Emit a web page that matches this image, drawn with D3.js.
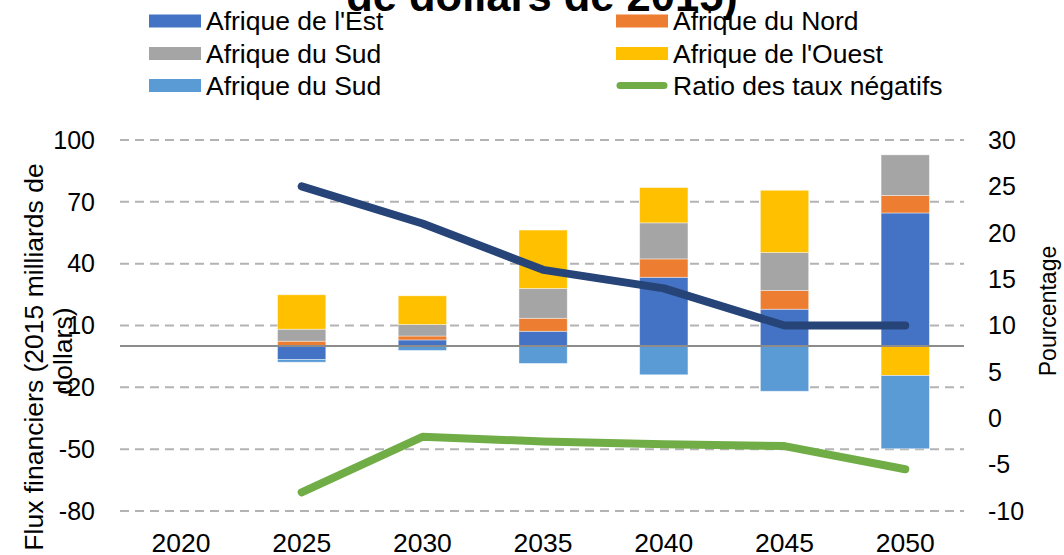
<!DOCTYPE html>
<html>
<head>
<meta charset="utf-8">
<script src="https://cdn.jsdelivr.net/npm/d3@7"></script>
<style>
  html, body { margin: 0; padding: 0; background: #fff; }
  svg { display: block; font-family: "Liberation Sans", Arial, sans-serif; }
</style>
</head>
<body>
<svg id="chart" width="1064" height="555"></svg>
<script>
// ---- Data ----
const years = ["2020", "2025", "2030", "2035", "2040", "2045", "2050"];
const afriqueEst   = [0, -6.5, 3.0, 7.2, 33.4, 17.9, 64.6];
const afriqueNord  = [0, 2.4, 1.9, 6.3, 8.9, 9.1, 8.5];
const afriqueSud   = [0, 5.8, 5.6, 14.5, 17.5, 18.4, 19.7];
const afriqueOuest = [0, 16.7, 13.9, 28.3, 17.1, 30.2, -14.3];
const afriqueSud2  = [0, -1.3, -2.1, -8.4, -13.9, -21.9, -35.5];
const ratioLine    = [null, 25, 21, 16, 14, 10, 10];
const ratioNegatif = [null, -8, -2, -2.5, -2.8, -3, -5.5];
const leftTicks  = [100, 70, 40, 10, -20, -50, -80];
const rightTicks = [30, 25, 20, 15, 10, 5, 0, -5, -10];

const seriesNames = ["Afrique de l'Est", "Afrique du Nord", "Afrique du Sud", "Afrique de l'Ouest", "Afrique du Sud "];
const seriesValues = [afriqueEst, afriqueNord, afriqueSud, afriqueOuest, afriqueSud2];
const seriesColors = ["#4472C4", "#ED7D31", "#A5A5A5", "#FFC000", "#5B9BD5"];

// ---- Layout ----
const svg = d3.select("#chart");
const plot = { left: 120.6, right: 965.6, top: 140, bottom: 511 };
const tickFont = 25;
const textFont = 26.5;

const x = d3.scaleBand().domain(years).range([plot.left, plot.right]).paddingInner(0.6).paddingOuter(0.3);
const yL = d3.scaleLinear().domain([-80, 100]).range([plot.bottom, plot.top]);
const yR = d3.scaleLinear().domain([-10, 30]).range([plot.bottom, plot.top]);

// gridlines
svg.append("g").selectAll("line").data(leftTicks).join("line")
  .attr("x1", 120).attr("x2", 964)
  .attr("y1", d => yL(d)).attr("y2", d => yL(d))
  .attr("stroke", "#B3B3B3").attr("stroke-width", 2).attr("stroke-dasharray", "9,6");

// stacked bars
const table = years.map((yr, i) => {
  const row = { year: yr };
  seriesNames.forEach((n, k) => row[n] = seriesValues[k][i]);
  return row;
});
const stack = d3.stack().keys(seriesNames).offset(d3.stackOffsetDiverging);
const stacked = stack(table);

svg.append("g").selectAll("g").data(stacked).join("g")
  .attr("fill", (d, i) => seriesColors[i])
  .selectAll("rect").data(d => d).join("rect")
  .attr("x", d => x(d.data.year))
  .attr("width", x.bandwidth())
  .attr("y", d => yL(Math.max(d[0], d[1])))
  .attr("height", d => Math.abs(yL(d[0]) - yL(d[1])))
  .attr("stroke", "#fff").attr("stroke-opacity", 0.5).attr("stroke-width", 0.8);

// zero line
svg.append("line")
  .attr("x1", 120).attr("x2", 964)
  .attr("y1", yL(0)).attr("y2", yL(0))
  .attr("stroke", "#8C8C8C").attr("stroke-width", 2);

// lines (right axis)
const cx = yr => x(yr) + x.bandwidth() / 2;
const lineGen = d3.line()
  .defined(d => d.v !== null)
  .x(d => cx(d.year)).y(d => yR(d.v));

svg.append("path")
  .datum(years.map((yr, i) => ({ year: yr, v: ratioLine[i] })))
  .attr("d", lineGen).attr("fill", "none")
  .attr("stroke", "#264478").attr("stroke-width", 8)
  .attr("stroke-linecap", "round").attr("stroke-linejoin", "round");

svg.append("path")
  .datum(years.map((yr, i) => ({ year: yr, v: ratioNegatif[i] })))
  .attr("d", lineGen).attr("fill", "none")
  .attr("stroke", "#70AD47").attr("stroke-width", 8)
  .attr("stroke-linecap", "round").attr("stroke-linejoin", "round");

// left axis labels
svg.append("g").selectAll("text").data(leftTicks).join("text")
  .attr("x", 95).attr("y", d => yL(d)).attr("dy", "0.35em")
  .attr("text-anchor", "end").attr("font-size", tickFont).attr("fill", "#000")
  .text(d => d);

// right axis labels
svg.append("g").selectAll("text").data(rightTicks).join("text")
  .attr("x", 988).attr("y", d => yR(d)).attr("dy", "0.35em")
  .attr("text-anchor", "start").attr("font-size", tickFont).attr("fill", "#000")
  .text(d => d);

// x labels
svg.append("g").selectAll("text").data(years).join("text")
  .attr("x", d => cx(d)).attr("y", 552)
  .attr("text-anchor", "middle").attr("font-size", textFont).attr("fill", "#000")
  .text(d => d);

// axis titles
const lt = svg.append("text").attr("font-size", textFont).attr("fill", "#000")
  .attr("text-anchor", "middle")
  .attr("transform", `translate(43,357) rotate(-90)`);
lt.append("tspan").attr("x", 0).attr("y", 0).text("Flux financiers (2015 milliards de");
lt.append("tspan").attr("x", 6).attr("y", 29).text("dollars)");

svg.append("text").attr("font-size", 23).attr("fill", "#000")
  .attr("text-anchor", "middle")
  .attr("transform", `translate(1056,311) rotate(-90)`)
  .text("Pourcentage");

// title (partially visible)
svg.append("text")
  .attr("x", 542).attr("y", 11)
  .attr("text-anchor", "middle").attr("font-size", 43.5).attr("font-weight", "bold").attr("fill", "#000")
  .text("de dollars de 2015)");

// legend
const legendItems = [
  { name: "Afrique de l'Est", color: seriesColors[0], type: "rect", col: 0, row: 0 },
  { name: "Afrique du Nord", color: seriesColors[1], type: "rect", col: 1, row: 0 },
  { name: "Afrique du Sud", color: seriesColors[2], type: "rect", col: 0, row: 1 },
  { name: "Afrique de l'Ouest", color: seriesColors[3], type: "rect", col: 1, row: 1 },
  { name: "Afrique du Sud", color: seriesColors[4], type: "rect", col: 0, row: 2 },
  { name: "Ratio des taux négatifs", color: "#70AD47", type: "line", col: 1, row: 2 }
];
const colX = [149, 616];
const rowY = [21, 53.5, 85.5];
const lg = svg.append("g").selectAll("g").data(legendItems).join("g")
  .attr("transform", d => `translate(${colX[d.col]},${rowY[d.row]})`);
lg.filter(d => d.type === "rect").append("rect")
  .attr("x", 0).attr("y", -6.5).attr("width", 52).attr("height", 13)
  .attr("fill", d => d.color);
lg.filter(d => d.type === "line").append("line")
  .attr("x1", 4).attr("x2", 48).attr("y1", 0).attr("y2", 0)
  .attr("stroke", d => d.color).attr("stroke-width", 7).attr("stroke-linecap", "round");
lg.append("text")
  .attr("x", 57).attr("y", 9).attr("font-size", textFont).attr("fill", "#000")
  .text(d => d.name);
</script>
</body>
</html>
